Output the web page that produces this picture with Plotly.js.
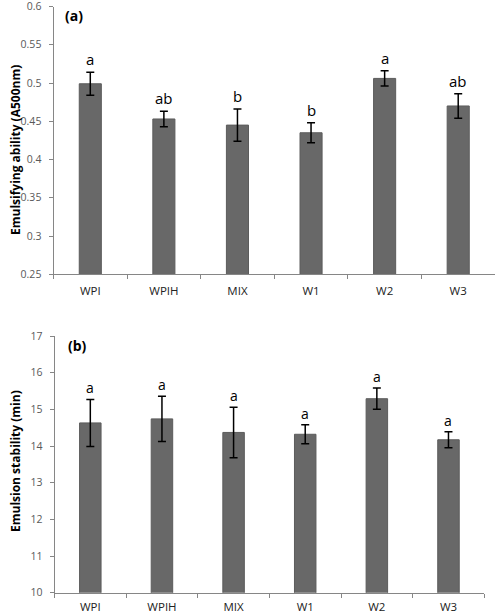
<!DOCTYPE html>
<html>
<head>
<meta charset="utf-8">
<script src="https://cdn.plot.ly/plotly-3.0.1.min.js"></script>
<style>
html,body{margin:0;padding:0;background:#fff;}
#chart{width:496px;height:613px;}
</style>
</head>
<body>
<div id="chart"></div>
<script>
// ---- data ----
const categories = ["WPI", "WPIH", "MIX", "W1", "W2", "W3"];
const abilityValues = [0.499, 0.453, 0.445, 0.435, 0.506, 0.470];
const abilityErrors = [0.015, 0.010, 0.021, 0.013, 0.010, 0.016];
const abilityLetters = ["a", "ab", "b", "b", "a", "ab"];
const stabilityValues = [14.63, 14.74, 14.37, 14.32, 15.29, 14.17];
const stabilityErrors = [0.64, 0.62, 0.69, 0.26, 0.29, 0.22];
const stabilityLetters = ["a", "a", "a", "a", "a", "a"];
const abilityTicks = [0.25, 0.3, 0.35, 0.4, 0.45, 0.5, 0.55, 0.6];
const stabilityTicks = [10, 11, 12, 13, 14, 15, 16, 17];

// ---- layout helpers ----
const W = 496, H = 613;
const px = v => v / W;
const py = v => (H - v) / H;
const FONT = "Open Sans, sans-serif";
const axisColor = "#868686";
const barColor = "#686868";

const barStyle = {color: barColor, line: {color: "#5c5c5c", width: 1}};
const errStyle = (arr) => ({type: "data", array: arr, visible: true, color: "#000", thickness: 1.5, width: 4});

const traces = [
  {type: "bar", x: categories, y: abilityValues, width: 0.3, marker: barStyle,
   error_y: errStyle(abilityErrors), xaxis: "x", yaxis: "y", hoverinfo: "skip"},
  {type: "bar", x: categories, y: stabilityValues, width: 0.3, marker: barStyle,
   error_y: errStyle(stabilityErrors), xaxis: "x2", yaxis: "y2", hoverinfo: "skip"}
];

const annotations = [];
categories.forEach((c, i) => {
  annotations.push({x: c, y: abilityValues[i] + abilityErrors[i], xref: "x", yref: "y",
    text: abilityLetters[i], showarrow: false, yanchor: "bottom", yshift: 1,
    font: {family: FONT, size: 15, color: "#000"}});
  annotations.push({x: c, y: stabilityValues[i] + stabilityErrors[i], xref: "x2", yref: "y2",
    text: stabilityLetters[i], showarrow: false, yanchor: "bottom", yshift: 0,
    font: {family: FONT, size: 14, color: "#000"}});
});
annotations.push({x: px(63), y: py(15), xref: "paper", yref: "paper", xanchor: "left", yanchor: "middle",
  text: "<b>(a)</b>", showarrow: false, font: {family: FONT, size: 14, color: "#000"}});
annotations.push({x: px(66), y: py(345), xref: "paper", yref: "paper", xanchor: "left", yanchor: "middle",
  text: "<b>(b)</b>", showarrow: false, font: {family: FONT, size: 14, color: "#000"}});
annotations.push({x: px(15), y: py(150), xref: "paper", yref: "paper", xanchor: "center", yanchor: "middle",
  text: "<b>Emulsifying ability (A500nm)</b>", textangle: -90, showarrow: false,
  font: {family: FONT, size: 12, color: "#000"}});
annotations.push({x: px(15), y: py(461), xref: "paper", yref: "paper", xanchor: "center", yanchor: "middle",
  text: "<b>Emulsion stability (min)</b>", textangle: -90, showarrow: false,
  font: {family: FONT, size: 12, color: "#000"}});

const xCommon = {type: "category", tickson: "boundaries", ticks: "outside", ticklen: 4,
  tickcolor: axisColor, showline: true, linecolor: axisColor, linewidth: 1, showgrid: false,
  zeroline: false, range: [-0.5, 5.5], tickfont: {family: FONT, size: 11.5, color: "#222"},
  ticklabeloverflow: "allow", fixedrange: true};
const yCommon = {ticks: "outside", ticklen: 4, tickcolor: axisColor, showline: true,
  linecolor: axisColor, linewidth: 1, showgrid: false, zeroline: false,
  tickfont: {family: FONT, size: 10.5, color: "#595959"}, ticklabelstandoff: 5,
  ticklabeloverflow: "allow", fixedrange: true};

const layout = {
  width: W, height: H,
  margin: {l: 0, r: 0, t: 0, b: 0},
  paper_bgcolor: "#fff", plot_bgcolor: "#fff",
  showlegend: false,
  xaxis: Object.assign({}, xCommon, {domain: [px(53.5), px(495)], anchor: "y", ticklabelstandoff: 6}),
  yaxis: Object.assign({}, yCommon, {domain: [py(274.3), py(6.5)], anchor: "x",
    range: [0.25, 0.6], tickvals: abilityTicks, ticktext: abilityTicks.map(String)}),
  xaxis2: Object.assign({}, xCommon, {domain: [px(54.5), px(484.3)], anchor: "y2", ticklabelstandoff: 3}),
  yaxis2: Object.assign({}, yCommon, {domain: [py(592.7), py(336)], anchor: "x2",
    range: [10, 17], tickvals: stabilityTicks, ticktext: stabilityTicks.map(String)}),
  annotations: annotations
};

Plotly.newPlot("chart", traces, layout, {staticPlot: true, displayModeBar: false});
</script>
</body>
</html>
